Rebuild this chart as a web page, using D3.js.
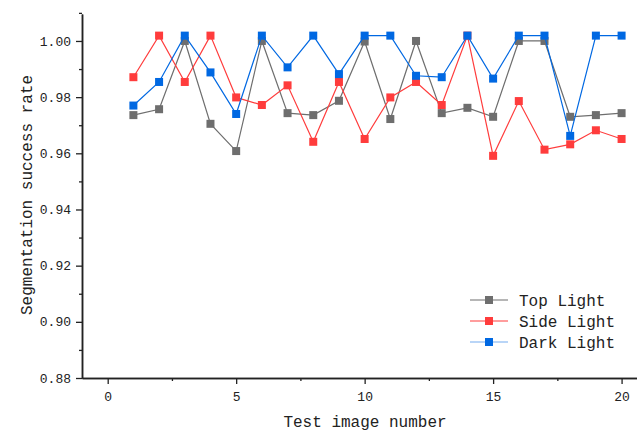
<!DOCTYPE html>
<html>
<head>
<meta charset="utf-8">
<script src="https://cdn.jsdelivr.net/npm/d3@7"></script>
<style>
  html, body { margin: 0; padding: 0; background: #fff; }
  svg { display: block; }
  text { font-family: "Liberation Mono", "DejaVu Sans Mono", monospace; fill: #222; }
</style>
</head>
<body>
<svg id="chart" width="637" height="432"></svg>
<script>
const imageNumbers = d3.range(1, 21);
const seriesNames = ["Top Light", "Side Light", "Dark Light"];
const seriesColors = ["#6e6e6e", "#ff3c3c", "#0068e2"];
const topLight = [0.9736, 0.9757, 1.000, 0.9705, 0.9608, 1.000, 0.9743, 0.9736, 0.9787, 0.9998,
                  0.9722, 1.000, 0.9743, 0.9762, 0.9730, 1.000, 1.000, 0.9730, 0.9736, 0.9743];
const sideLight = [0.9871, 1.0019, 0.9854, 1.0019, 0.9799, 0.9772, 0.9842, 0.9641, 0.9854, 0.9651,
                   0.9799, 0.9854, 0.9772, 1.0019, 0.9591, 0.9786, 0.9613, 0.9632, 0.9682, 0.9651];
const darkLight = [0.9770, 0.9854, 1.0019, 0.9888, 0.9740, 1.0019, 0.9906, 1.0019, 0.9882, 1.0019,
                   1.0019, 0.9876, 0.9871, 1.0019, 0.9866, 1.0019, 1.0019, 0.9662, 1.0019, 1.0019];
const seriesValues = [topLight, sideLight, darkLight];
const xTicks = [0, 5, 10, 15, 20];
const yTicks = [0.88, 0.90, 0.92, 0.94, 0.96, 0.98, 1.00];
const xLabel = "Test image number";
const yLabel = "Segmentation success rate";

const svg = d3.select("#chart");
const x = d3.scaleLinear().domain([-1.0, 20.6]).range([82, 637]);
const y = d3.scaleLinear().domain([0.88, 1.0096]).range([378, 14]);

// Axes
const xAxis = d3.axisBottom(x).tickValues(xTicks).tickSize(6).tickSizeOuter(0).tickPadding(8)
  .tickFormat(d3.format("d"));
const xMinor = d3.axisBottom(x).tickValues(xTicks.slice(0, -1).map(v => v + 2.5)).tickSize(3)
  .tickSizeOuter(0).tickFormat("");
const yAxis = d3.axisLeft(y).tickValues(yTicks).tickSize(6).tickSizeOuter(0).tickPadding(5)
  .tickFormat(d3.format(".2f"));
const yMinor = d3.axisLeft(y).tickValues(yTicks.map(v => v + 0.01)).tickSize(3)
  .tickSizeOuter(0).tickFormat("");

function styleAxis(g) {
  g.select(".domain").attr("stroke", "#222").attr("stroke-width", 1.5);
  g.selectAll(".tick line").attr("stroke", "#222").attr("stroke-width", 1.3);
  g.selectAll(".tick text").style("font-family", '"Liberation Mono", monospace')
    .style("font-size", "13px").attr("fill", "#333");
}

svg.append("g").attr("transform", "translate(0,378)").call(xMinor).call(styleAxis);
svg.append("g").attr("transform", "translate(0,378)").call(xAxis).call(styleAxis);
svg.append("g").attr("transform", "translate(82,0)").call(yMinor).call(styleAxis);
svg.append("g").attr("transform", "translate(82,0)").call(yAxis).call(styleAxis);

// Axis titles
svg.append("text").attr("x", 365).attr("y", 427).attr("text-anchor", "middle")
  .style("font-size", "16px").text(xLabel);
svg.append("text").attr("transform", "translate(32,195) rotate(-90)").attr("text-anchor", "middle")
  .style("font-size", "16px").text(yLabel);

// Series
const line = d3.line().x((d, i) => x(imageNumbers[i])).y(d => y(d));
const ms = 8;
seriesValues.forEach((vals, si) => {
  const g = svg.append("g");
  g.append("path").datum(vals).attr("d", line).attr("fill", "none")
    .attr("stroke", seriesColors[si]).attr("stroke-width", 1.2);
  g.selectAll("rect").data(vals).join("rect")
    .attr("x", (d, i) => x(imageNumbers[i]) - ms / 2)
    .attr("y", d => y(d) - ms / 2)
    .attr("width", ms).attr("height", ms)
    .attr("fill", seriesColors[si]);
});

// Legend
const legend = svg.append("g");
seriesNames.forEach((name, i) => {
  const cy = 300 + i * 21;
  legend.append("line").attr("x1", 470).attr("x2", 508).attr("y1", cy).attr("y2", cy)
    .attr("stroke", seriesColors[i]).attr("stroke-width", 1.2)
    .attr("stroke-opacity", i === 2 ? 0.55 : 1);
  legend.append("rect").attr("x", 489 - ms / 2).attr("y", cy - ms / 2)
    .attr("width", ms).attr("height", ms).attr("fill", seriesColors[i]);
  legend.append("text").attr("x", 519).attr("y", cy + 5.5)
    .style("font-size", "16px").text(name);
});
</script>
</body>
</html>
